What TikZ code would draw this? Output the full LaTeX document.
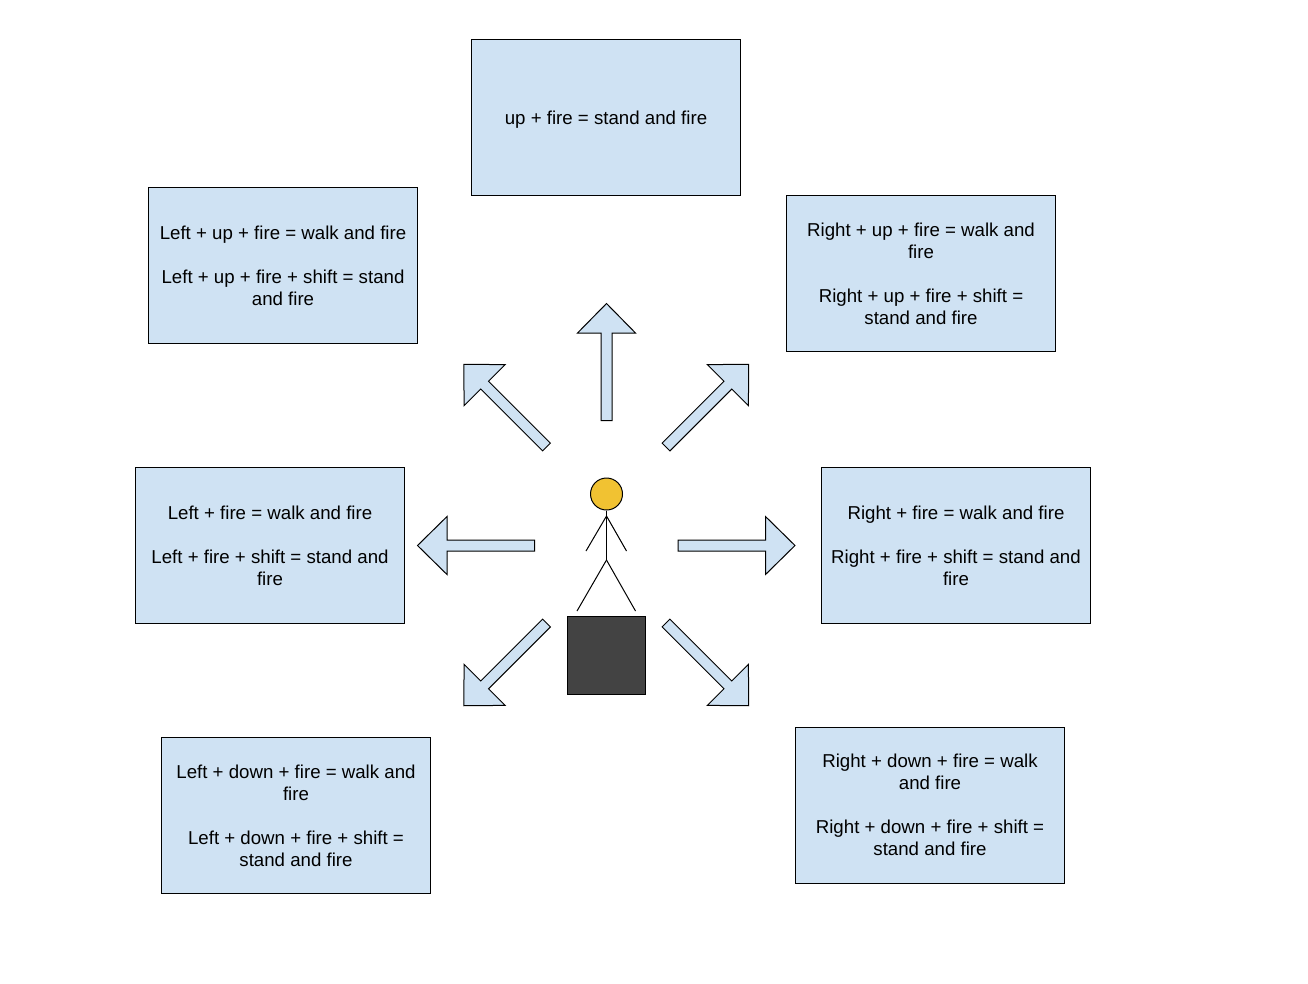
\documentclass[tikz,border=0pt]{standalone}
\usepackage{fontspec}
\setmainfont{Liberation Sans}
\definecolor{boxblue}{HTML}{CFE2F3}
\definecolor{headyellow}{HTML}{F1C232}
\definecolor{blockgrey}{HTML}{434343}
\tikzset{
	firebox/.style={rectangle,draw=black,fill=boxblue,line width=.75pt,align=center,inner sep=0pt,
		minimum width=201.75pt,minimum height=117pt,font={\fontsize{14pt}{16.5pt}\selectfont},
		execute at begin node={\rule{0pt}{14.1pt}}},
	firearrow/.pic={
		\draw[fill=boxblue,line width=.75pt,miter limit=10] (0,5.5) -- (87.5,5.5) -- (87.5,29) -- (117,0) -- (87.5,-29) -- (87.5,-5.5) -- (0,-5.5) -- cycle;
	}
}
\begin{document}
\begin{tikzpicture}[x=.75pt,y=-.75pt]
	\useasboundingbox (0,0) rectangle (1308,983);

	\node[firebox] (upbox) at (606,117.5) {up + fire = stand and fire};
	\node[firebox] (leftupbox) at (283,265.5) {Left + up + fire = walk and fire\\[16.5pt]Left + up + fire + shift = stand\\and fire};
	\node[firebox] (rightupbox) at (921,273.5) {Right + up + fire = walk and\\fire\\[16.5pt]Right + up + fire + shift =\\stand and fire};
	\node[firebox] (leftbox) at (270,545.5) {Left + fire = walk and fire\\[16.5pt]Left + fire + shift = stand and\\fire};
	\node[firebox] (rightbox) at (956,545.5) {Right + fire = walk and fire\\[16.5pt]Right + fire + shift = stand and\\fire};
	\node[firebox] (leftdownbox) at (296,815.5) {Left + down + fire = walk and\\fire\\[16.5pt]Left + down + fire + shift =\\stand and fire};
	\node[firebox] (rightdownbox) at (930,805) {Right + down + fire = walk\\and fire\\[16.5pt]Right + down + fire + shift =\\stand and fire};

	\pic[rotate=90] at (606.5,420.5) {firearrow};
	\pic[rotate=45] at (666,447) {firearrow};
	\pic[rotate=135] at (546.5,447) {firearrow};
	\pic[rotate=0] at (678,545.5) {firearrow};
	\pic[rotate=180] at (534.5,545.5) {firearrow};
	\pic[rotate=-45] at (666,623) {firearrow};
	\pic[rotate=-135] at (546.5,623) {firearrow};

	\node[circle,draw,fill=headyellow,line width=.75pt,inner sep=0pt,minimum size=24pt] (head) at (606.5,494) {};
	\node[rectangle,draw,fill=blockgrey,line width=.75pt,inner sep=0pt,minimum size=58.5pt] (block) at (606.5,655.5) {};
	\coordinate (shoulder) at (606.5,516);
	\coordinate (hip) at (606.5,560);

	\draw[line width=.75pt] (head.south) -- (hip);
	\draw[line width=.75pt] (shoulder) -- (586,551);
	\draw[line width=.75pt] (shoulder) -- (626.5,551);
	\draw[line width=.75pt] (hip) -- (577,611);
	\draw[line width=.75pt] (hip) -- (635.5,611);
\end{tikzpicture}
\end{document}
